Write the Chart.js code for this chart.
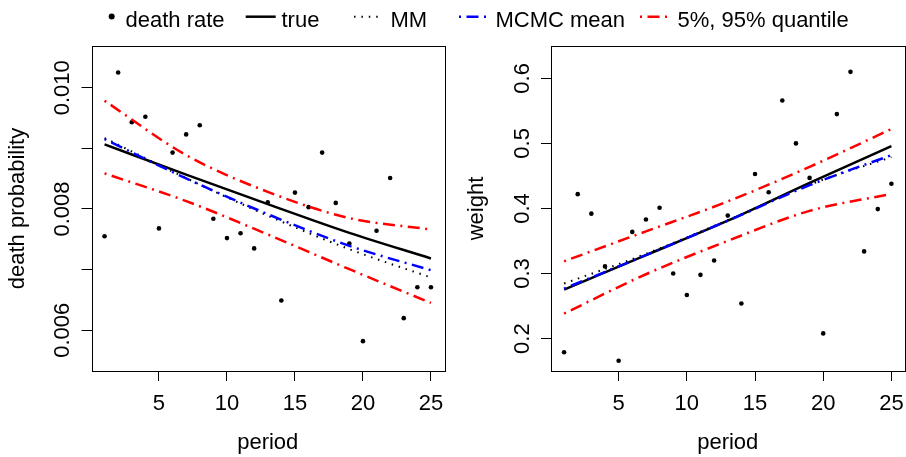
<!DOCTYPE html>
<html>
<head>
<meta charset="utf-8">
<script src="https://cdn.jsdelivr.net/npm/chart.js@4.4.0/dist/chart.umd.min.js"></script>
<style>
    html, body { margin: 0; padding: 0; background: #fff; }
    #wrap { position: relative; width: 906px; height: 457px; overflow: hidden; }
    #wrap canvas { position: absolute; top: 0; }
    #chartDeath { left: 0; }
    #chartWeight { left: 453px; }
    #legend { position: absolute; left: 0; top: 0; }
</style>
</head>
<body>
<div id="wrap">
    <canvas id="chartDeath" width="453" height="457"></canvas>
    <canvas id="chartWeight" width="453" height="457"></canvas>
    <svg id="legend" width="906" height="40" font-family="Liberation Sans, Arial, sans-serif" font-size="22" fill="#000">
        <circle cx="111.7" cy="16.5" r="3" fill="#000"></circle>
        <text x="125.5" y="27">death rate</text>
        <line x1="245.7" y1="16.7" x2="275.7" y2="16.7" stroke="#000" stroke-width="2.5"></line>
        <text x="281.5" y="27">true</text>
        <line x1="354" y1="16.7" x2="381" y2="16.7" stroke="#000" stroke-width="2" stroke-dasharray="1.5 5.9"></line>
        <text x="390.5" y="27">MM</text>
        <line x1="459" y1="16.7" x2="488" y2="16.7" stroke="#0000ff" stroke-width="2.5" stroke-dasharray="2 5.5 12 5.5"></line>
        <text x="495.5" y="27">MCMC mean</text>
        <line x1="640" y1="16.7" x2="671.7" y2="16.7" stroke="#ff0000" stroke-width="2.5" stroke-dasharray="2 5.5 12 5.5"></line>
        <text x="677.5" y="27">5%, 95% quantile</text>
    </svg>
</div>
<script>
// observed values, one per period
const periods = [1, 2, 3, 4, 5, 6, 7, 8, 9, 10, 11, 12, 13, 14, 15, 16, 17, 18, 19, 20, 21, 22, 23, 24, 25];
const deathRate = [0.00755, 0.01025, 0.00943, 0.00952, 0.00768, 0.00893, 0.00923, 0.00938, 0.00784, 0.00752,
    0.00760, 0.00735, 0.00811, 0.00649, 0.00827, 0.00803, 0.00893, 0.00810, 0.00743, 0.00582,
    0.00764, 0.00851, 0.00620, 0.00671, 0.00671];
const weightObs = [0.179, 0.422, 0.392, 0.311, 0.166, 0.364, 0.383, 0.401, 0.300, 0.267,
    0.298, 0.320, 0.389, 0.254, 0.453, 0.425, 0.566, 0.500, 0.447, 0.208,
    0.545, 0.610, 0.334, 0.399, 0.438];

// fitted curves read at these periods
const fitPeriods = [1, 7, 13, 19, 25];
const deathTrue = [0.009066, 0.008567, 0.008080, 0.007606, 0.007184];
const deathMM = [0.009170, 0.008509, 0.007890, 0.007337, 0.006870];
const deathMCMC = [0.009153, 0.008504, 0.007915, 0.007392, 0.006990];
const deathQ05 = [0.008587, 0.008130, 0.007580, 0.007007, 0.006451];
const deathQ95 = [0.009785, 0.008889, 0.008283, 0.007850, 0.007662];

const weightTrue = [0.2754, 0.3282, 0.3812, 0.4394, 0.4958];
const weightMM = [0.2846, 0.3302, 0.3820, 0.4366, 0.4789];
const weightMCMC = [0.2769, 0.3282, 0.3812, 0.4358, 0.4820];
const weightQ05 = [0.2385, 0.2989, 0.3502, 0.3963, 0.4225];
const weightQ95 = [0.3189, 0.3648, 0.4108, 0.4640, 0.5220];

// axes
const periodTicks = [5, 10, 15, 20, 25];
const deathTicks = [0.006, 0.007, 0.008, 0.009, 0.010];
const deathTickLabels = ['0.006', '', '0.008', '', '0.010'];
const weightTicks = [0.2, 0.3, 0.4, 0.5, 0.6];
const weightTickLabels = ['0.2', '0.3', '0.4', '0.5', '0.6'];

var panel_charts = (function () {
    const FONT = '22px "Liberation Sans", Arial, Helvetica, sans-serif';
    const dashDot = [2, 5.5, 12, 5.5];

    function toXY(xs, ys) {
        return xs.map(function (x, i) { return { x: x, y: ys[i] }; });
    }

    // box, tick labels and titles in the R look
    const rAxisText = {
        id: 'rAxisText',
        afterDraw: function (chart, args, o) {
            const ctx = chart.ctx, a = chart.chartArea;
            const xs = chart.scales.x, ys = chart.scales.y;
            ctx.save();
            ctx.strokeStyle = '#000';
            ctx.lineWidth = 1;
            ctx.strokeRect(Math.round(a.left) + 0.5, Math.round(a.top) + 0.5,
                Math.round(a.right - a.left), Math.round(a.bottom - a.top));

            ctx.fillStyle = '#000';
            ctx.font = FONT;
            ctx.textAlign = 'center';
            ctx.textBaseline = 'alphabetic';
            periodTicks.forEach(function (v) {
                ctx.fillText(String(v), xs.getPixelForValue(v), 410);
            });
            ctx.fillText(o.xTitle, (a.left + a.right) / 2, 448.5);

            o.yTicks.forEach(function (v, i) {
                if (!o.yLabels[i]) return;
                ctx.save();
                ctx.translate(a.left - 22.5, ys.getPixelForValue(v));
                ctx.rotate(-Math.PI / 2);
                ctx.fillText(o.yLabels[i], 0, 0);
                ctx.restore();
            });
            ctx.save();
            ctx.translate(a.left - 68, (a.top + a.bottom) / 2);
            ctx.rotate(-Math.PI / 2);
            ctx.fillText(o.yTitle, 0, 0);
            ctx.restore();
            ctx.restore();
        }
    };

    function lineSet(label, ys, color, dash, width, order) {
        return {
            label: label,
            data: toXY(fitPeriods, ys),
            showLine: true,
            borderColor: color,
            borderWidth: width,
            borderDash: dash,
            pointRadius: 0,
            cubicInterpolationMode: 'monotone',
            fill: false,
            order: order
        };
    }

    function makePanel(id, p) {
        const tickGrid = { drawOnChartArea: false, drawTicks: true, tickLength: 10, color: '#000', lineWidth: 1 };
        return new Chart(document.getElementById(id), {
            type: 'scatter',
            data: {
                datasets: [
                    {
                        label: 'death rate',
                        data: toXY(periods, p.obs),
                        pointRadius: 2.3,
                        pointBackgroundColor: '#000',
                        pointBorderWidth: 0,
                        order: 6
                    },
                    lineSet('true', p.truth, '#000', [], 2.5, 5),
                    lineSet('MM', p.mm, '#000', [1.5, 5.8], 2, 4),
                    lineSet('MCMC mean', p.mcmc, '#0000ff', dashDot, 2.5, 3),
                    lineSet('5% quantile', p.q05, '#ff0000', dashDot, 2.5, 2),
                    lineSet('95% quantile', p.q95, '#ff0000', dashDot, 2.5, 1)
                ]
            },
            options: {
                responsive: false,
                animation: false,
                devicePixelRatio: 1,
                events: [],
                layout: { autoPadding: false, padding: { top: 46, right: p.padRight, bottom: 0, left: 0 } },
                scales: {
                    x: {
                        type: 'linear',
                        min: 0.04,
                        max: 25.96,
                        afterBuildTicks: function (s) { s.ticks = periodTicks.map(function (v) { return { value: v }; }); },
                        afterFit: function (s) { s.height = 86; },
                        ticks: { display: false },
                        grid: tickGrid,
                        border: { display: false }
                    },
                    y: {
                        type: 'linear',
                        min: p.yMin,
                        max: p.yMax,
                        afterBuildTicks: function (s) { s.ticks = p.yTicks.map(function (v) { return { value: v }; }); },
                        afterFit: function (s) { s.width = p.axisWidth; },
                        ticks: { display: false },
                        grid: tickGrid,
                        border: { display: false }
                    }
                },
                plugins: {
                    legend: { display: false },
                    tooltip: { enabled: false },
                    rAxisText: { xTitle: 'period', yTitle: p.yTitle, yTicks: p.yTicks, yLabels: p.yLabels }
                }
            },
            plugins: [rAxisText]
        });
    }

    return {
        init: function () {
            makePanel('chartDeath', {
                obs: deathRate, truth: deathTrue, mm: deathMM, mcmc: deathMCMC, q05: deathQ05, q95: deathQ95,
                yMin: 0.005328, yMax: 0.010688, yTicks: deathTicks, yLabels: deathTickLabels,
                yTitle: 'death probability', axisWidth: 91.5, padRight: 9
            });
            makePanel('chartWeight', {
                obs: weightObs, truth: weightTrue, mm: weightMM, mcmc: weightMCMC, q05: weightQ05, q95: weightQ95,
                yMin: 0.1502, yMax: 0.6497, yTicks: weightTicks, yLabels: weightTickLabels,
                yTitle: 'weight', axisWidth: 98, padRight: 1.5
            });
        }
    };
})();

panel_charts.init();
</script>
</body>
</html>
